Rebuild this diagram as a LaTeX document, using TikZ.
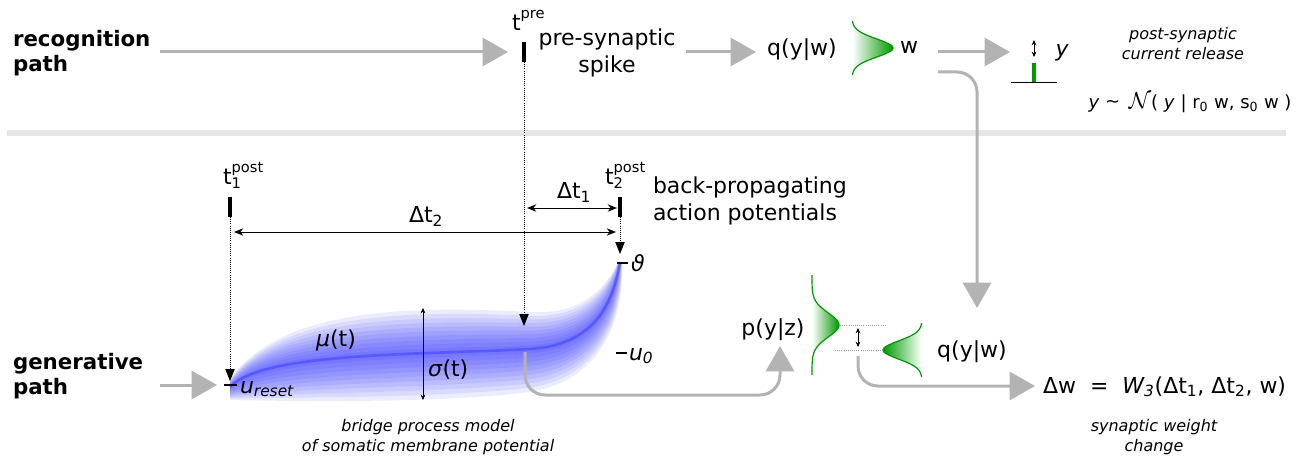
\documentclass[tikz,border=0pt]{standalone}
\usepackage{fontspec}
\setmainfont{DejaVu Sans}
\usetikzlibrary{arrows.meta,calc}
\definecolor{arrgray}{HTML}{B3B3B3}
\definecolor{sepgray}{HTML}{E6E6E6}
\definecolor{gauss}{HTML}{009900}
\definecolor{dotgray}{HTML}{999999}
\newcommand{\supsub}[2]{\rlap{\raisebox{0.55em}{\fontsize{11}{11}\selectfont #1}}\raisebox{-0.18em}{\fontsize{11}{11}\selectfont #2}}
\begin{document}
\begin{tikzpicture}[x=0.75pt,y=-0.75pt,
  every node/.style={inner sep=0pt, outer sep=0pt},
  big/.style={font=\fontsize{16.5}{20.5}\selectfont},
  boldlbl/.style={font=\fontsize{16}{19}\selectfont\bfseries, align=left},
  note/.style={font=\fontsize{12}{15}\selectfont\itshape, align=center},
  flow/.style={draw=arrgray, line width=2.25pt, -{Triangle[length=19pt,width=21pt]}},
  curveflow/.style={flow, rounded corners=15pt},
  spikebar/.style={line width=3pt},
  dotdrop/.style={densely dotted, line width=0.6pt, -{Triangle[length=9pt,width=7pt]}},
  dimline/.style={line width=0.7pt, {Stealth[length=7pt,width=5.5pt]}-{Stealth[length=7pt,width=5.5pt]}},
  smalldim/.style={line width=0.5pt, {Stealth[length=4pt,width=3.5pt]}-{Stealth[length=4pt,width=3.5pt]}},
  tick/.style={line width=1.5pt},
  gline/.style={draw=gauss, line width=0.9pt},
  guide/.style={draw=dotgray, densely dotted, line width=0.6pt},
]
\useasboundingbox (0,0) rectangle (1299,474);

% separator
\fill[sepgray] (7,130) rectangle (1286,136);

% ---------- band (bridge process) ----------
\coordinate (M0) at (230,387); \coordinate (M1) at (262,352); \coordinate (M2) at (420,355); \coordinate (M3) at (530,349);
\coordinate (M4) at (590,345); \coordinate (M5) at (612,310); \coordinate (M6) at (620,262);
\coordinate (U0) at (230,379); \coordinate (U1) at (280,310); \coordinate (U2) at (400,305); \coordinate (U3) at (530,312);
\coordinate (U4) at (580,315); \coordinate (U5) at (605,290); \coordinate (U6) at (618,262);
\coordinate (L0) at (230,400); \coordinate (L1) at (330,402); \coordinate (L2) at (450,402); \coordinate (L3) at (530,392);
\coordinate (L4) at (602,380); \coordinate (L5) at (624,320); \coordinate (L6) at (622,262);
\foreach \k in {1,...,10}{
  \pgfmathsetmacro\s{\k/10}
  \fill[blue, opacity=0.075]
    ($(M0)!\s!(U0)$) .. controls ($(M1)!\s!(U1)$) and ($(M2)!\s!(U2)$) .. ($(M3)!\s!(U3)$)
    .. controls ($(M4)!\s!(U4)$) and ($(M5)!\s!(U5)$) .. ($(M6)!\s!(U6)$)
    -- ($(M6)!\s!(L6)$) .. controls ($(M5)!\s!(L5)$) and ($(M4)!\s!(L4)$) .. ($(M3)!\s!(L3)$)
    .. controls ($(M2)!\s!(L2)$) and ($(M1)!\s!(L1)$) .. ($(M0)!\s!(L0)$) -- cycle;
}
\draw[blue, opacity=0.25, line width=2pt] (M0) .. controls (M1) and (M2) .. (M3) .. controls (M4) and (M5) .. (M6);

% ---------- recognition path ----------
\node[boldlbl, anchor=west] (rec) at (13,53) {recognition\\path};
\coordinate (recStart) at (160,52);
\coordinate (preIn) at (508,52);
\draw[flow] (recStart) -- (preIn);

\coordinate (preTop) at (524,42);
\coordinate (preBot) at (524,62);
\draw[spikebar] (preTop) -- (preBot);
\node[big, anchor=base west] (tpre) at (512,31) {t\raisebox{0.55em}{\fontsize{11}{11}\selectfont pre}};
\node[big, align=center] (presyn) at (607,53) {pre-synaptic\\spike};

\coordinate (preOut) at (686,52);
\coordinate (qTopIn) at (756,52);
\draw[flow] (preOut) -- (qTopIn);
\node[big] (qtop) at (802,50) {q(y|w)};

\shade[left color=white, right color=gauss] plot[domain=-27:27, samples=60, smooth] ({852+41*exp(-(\x/9)*(\x/9)/2)},{48+\x}) -- cycle;
\draw[gline] plot[domain=-27:27, samples=60, smooth] ({852+41*exp(-(\x/9)*(\x/9)/2)},{48+\x});
\node[big] (wtop) at (909,47) {w};

\coordinate (wRight) at (938,52);
\coordinate (yIn) at (1010,52);
\draw[flow] (wRight) -- (yIn);

\coordinate (yArrTop) at (1034,40);
\coordinate (yArrBot) at (1034,57);
\draw[smalldim] (yArrTop) -- (yArrBot);
\coordinate (gbarTop) at (1034,63);
\coordinate (gbarBot) at (1034,82);
\draw[gauss, line width=3.5pt] (gbarTop) -- (gbarBot);
\coordinate (baseL) at (1011,82);
\coordinate (baseR) at (1057,82);
\draw[line width=0.7pt] (baseL) -- (baseR);
\node[big, font=\fontsize{16.5}{20}\selectfont\itshape] (ysym) at (1062,53) {y};

\node[note] (psc) at (1183,44) {post-synaptic\\current release};
\node[font=\fontsize{13.5}{16}\selectfont] (ndist) at (1190,103) {\textit{y} \raisebox{0.1ex}{\char"223C} \,{\fontsize{19}{19}\selectfont$\mathcal{N}$}( \textit{y} | r\textsubscript{0} w, s\textsubscript{0} w )};

\coordinate (wOut) at (938,72);
\coordinate (qIn) at (977,308);
\draw[curveflow] (wOut) -| (qIn);

% ---------- generative path ----------
\node[boldlbl, anchor=west] (gen) at (13,376) {generative\\path};
\coordinate (genStart) at (160,385);
\coordinate (genIn) at (217,385);
\draw[flow] (genStart) -- (genIn);

% post spikes
\coordinate (t1Top) at (230,197); \coordinate (t1Bot) at (230,217);
\coordinate (t2Top) at (620,197); \coordinate (t2Bot) at (620,217);
\draw[spikebar] (t1Top) -- (t1Bot);
\draw[spikebar] (t2Top) -- (t2Bot);
\node[big, anchor=base west] (t1lbl) at (223,185) {t\supsub{post}{1}};
\node[big, anchor=base west] (t2lbl) at (605,185) {t\supsub{post}{2}};

% dotted drops
\coordinate (preTip) at (524,326);
\coordinate (t1Tip) at (230,381);
\coordinate (t2Tip) at (620,254);
\draw[dotdrop] (preBot) -- (preTip);
\draw[dotdrop] (t1Bot) -- (t1Tip);
\draw[dotdrop] (t2Bot) -- (t2Tip);

% intervals
\coordinate (d1L) at (527,208); \coordinate (d1R) at (617,208);
\coordinate (d2L) at (234,232); \coordinate (d2R) at (616,232);
\draw[dimline] (d1L) -- (d1R);
\draw[dimline] (d2L) -- (d2R);
\node[big, anchor=base west] (dt1) at (557,199) {Δt\textsubscript{1}};
\node[big, anchor=base west] (dt2) at (409,223) {Δt\textsubscript{2}};

\node[big, align=left, anchor=west] (bap) at (653,201) {back-propagating\\action potentials};

% ticks and levels
\coordinate (urL) at (224,385); \coordinate (urR) at (237,385);
\draw[tick] (urL) -- (urR);
\node[big, anchor=west] (ureset) at (240,389) {\textit{u\textsubscript{reset}}};
\coordinate (thL) at (617,263); \coordinate (thR) at (628,263);
\draw[tick] (thL) -- (thR);
\node[big, anchor=west] (theta) at (631,263) {\textit{ϑ}};
\coordinate (u0L) at (616,353); \coordinate (u0R) at (627,353);
\draw[tick] (u0L) -- (u0R);
\node[big, anchor=west] (uzero) at (629,356) {\textit{u\textsubscript{0}}};

\node[big] (mu) at (336,340) {\textit{μ}(t)};
\coordinate (sigTop) at (423,308); \coordinate (sigBot) at (423,400);
\draw[smalldim] (sigTop) -- (sigBot);
\node[big, anchor=west] (sigma) at (428,370) {\textit{σ}(t)};

\node[note] (bridge) at (428,437) {bridge process model\\of somatic membrane potential};

% mean -> p(y|z)
\coordinate (meanPt) at (525,352);
\coordinate (pIn) at (780,346);
\coordinate (lowRail) at (0,395);
\draw[curveflow] (meanPt) -- (meanPt |- lowRail) -- (pIn |- lowRail) -- (pIn);
\node[big] (pyz) at (773,330) {p(y|z)};

% gaussians bottom
\shade[left color=white, right color=gauss] plot[domain=-50:50, samples=80, smooth] ({812+27*exp(-(\x/12)*(\x/12)/2)},{325+\x}) -- cycle;
\draw[gline] plot[domain=-50:50, samples=80, smooth] ({812+27*exp(-(\x/12)*(\x/12)/2)},{325+\x});
\shade[left color=gauss, right color=white] plot[domain=-27:27, samples=60, smooth] ({922-39*exp(-(\x/9)*(\x/9)/2)},{350+\x}) -- cycle;
\draw[gline] plot[domain=-27:27, samples=60, smooth] ({922-39*exp(-(\x/9)*(\x/9)/2)},{350+\x});

\coordinate (gpA) at (840,325); \coordinate (gpB) at (885,325);
\coordinate (gqA) at (835,350); \coordinate (gqB) at (881,350);
\draw[guide] (gpA) -- (gpB);
\draw[guide] (gqA) -- (gqB);
\coordinate (dTop) at (858,328); \coordinate (dBot) at (858,347);
\draw[smalldim] (dTop) -- (dBot);
\node[big] (qbot) at (972,352) {q(y|w)};

\coordinate (dOut) at (858,356);
\coordinate (dwIn) at (1035,386);
\draw[curveflow] (dOut) |- (dwIn);

\node[big, anchor=west] (dw) at (1043,387) {Δw\ \ =\ \ \textit{W\textsubscript{3}}(Δt\textsubscript{1}, Δt\textsubscript{2}, w)};
\node[note] (swc) at (1154,437) {synaptic weight\\change};
\end{tikzpicture}
\end{document}
